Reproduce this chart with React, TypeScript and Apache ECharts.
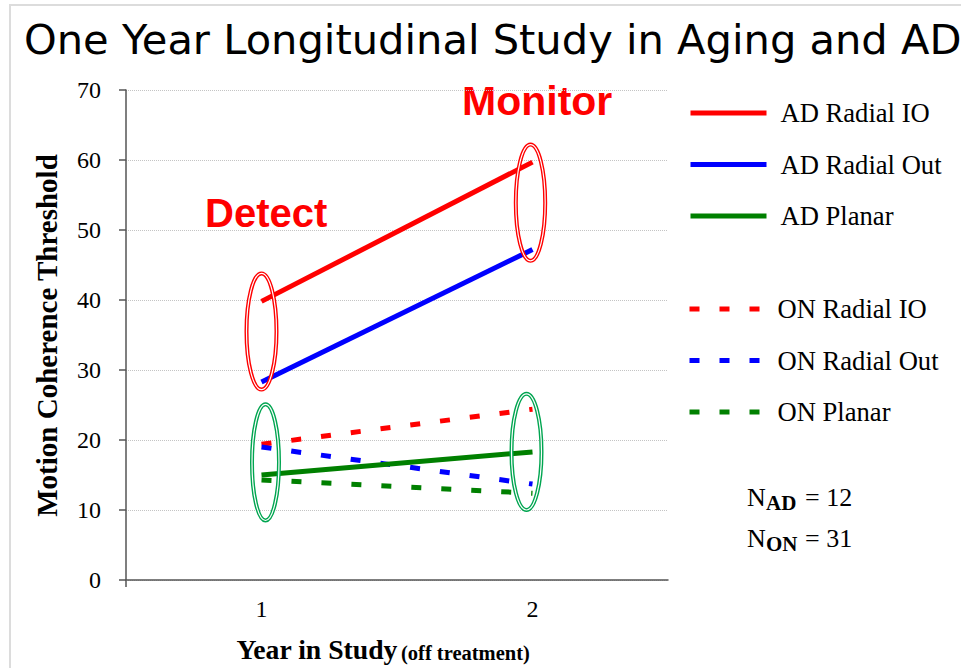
import React, { useEffect, useRef } from 'react';
import * as echarts from 'echarts';

const categories = ['1', '2'];
const adRadialIO = [39.8, 59.7];
const adRadialOut = [28.3, 47.2];
const adPlanar = [15.0, 18.3];
const onRadialIO = [19.4, 24.4];
const onRadialOut = [19.0, 13.7];
const onPlanar = [14.3, 12.4];

const yTicks = { min: 0, max: 70, interval: 10 };

// ellipse annotations: [category index, centre value, half height in value units]
const ellipseData = [
  [0, 35.5, 8.3],
  [1, 53.9, 8.3],
  [0, 16.8, 8.3],
  [1, 18.3, 8.3],
];
const ellipseColors = ['#ff0000', '#ff0000', '#00a550', '#00a550'];
const ellipseDx = [0, -2, 4, -6];
const ellipseRx = [15, 14.7, 13.5, 15];

const SERIF = "'Liberation Serif', 'Times New Roman', serif";
const SANS = "'Liberation Sans', Arial, sans-serif";
const TITLE_FONT = "'DejaVu Sans', Verdana, sans-serif";

const RED = '#ff0000';
const BLUE = '#0000ff';
const GREEN = '#008000';

export default function App() {
  const ref = useRef<HTMLDivElement>(null);

  useEffect(() => {
    if (!ref.current) return;
    const chart = echarts.init(ref.current, undefined, { renderer: 'svg' });

    const solid = (name: string, data: number[], color: string) => ({
      name,
      type: 'line',
      data,
      symbol: 'none',
      itemStyle: { color },
      lineStyle: { color, width: 5, type: 'solid', cap: 'butt' },
      z: 3,
    });
    const dashed = (name: string, data: number[], color: string) => ({
      name,
      type: 'line',
      data,
      symbol: 'none',
      itemStyle: { color },
      lineStyle: { color, width: 5, type: [10, 20], cap: 'butt' },
      z: 2,
    });

    chart.setOption({
      animation: false,
      backgroundColor: '#ffffff',
      grid: { left: 126, right: 293, top: 90, bottom: 88, containLabel: false },
      xAxis: {
        type: 'category',
        data: categories,
        boundaryGap: true,
        axisLine: { show: true, lineStyle: { color: '#555555', width: 1.5 } },
        axisTick: { show: false },
        axisLabel: { fontFamily: SERIF, fontSize: 24, color: '#000', margin: 17 },
        splitLine: { show: false },
      },
      yAxis: {
        type: 'value',
        min: yTicks.min,
        max: yTicks.max,
        interval: yTicks.interval,
        axisLine: { show: true, lineStyle: { color: '#555555', width: 1.5 } },
        axisTick: { show: true, inside: false, length: 7, lineStyle: { color: '#555555', width: 1.5 } },
        axisLabel: { fontFamily: SERIF, fontSize: 24, color: '#000', margin: 25 },
        splitLine: { show: true, lineStyle: { color: '#c4c4c4', type: 'dotted', width: 1 } },
      },
      legend: [
        {
          data: ['AD Radial IO', 'AD Radial Out', 'AD Planar'],
          orient: 'vertical',
          left: 688,
          top: 98,
          padding: 0,
          itemWidth: 76,
          itemHeight: 14,
          itemGap: 21.5,
          selectedMode: false,
          itemStyle: { opacity: 0 },
          lineStyle: { width: 5, type: 'solid' },
          textStyle: { fontFamily: SERIF, fontSize: 26.6, color: '#000', lineHeight: 30, padding: [0, 0, 0, 9] },
        },
        {
          data: ['ON Radial IO', 'ON Radial Out', 'ON Planar'],
          orient: 'vertical',
          left: 687,
          top: 294,
          padding: 0,
          itemWidth: 72,
          itemHeight: 14,
          itemGap: 21.5,
          selectedMode: false,
          itemStyle: { opacity: 0 },
          lineStyle: { width: 5, type: [10, 20] },
          textStyle: { fontFamily: SERIF, fontSize: 26.6, color: '#000', lineHeight: 30, padding: [0, 0, 0, 11] },
        },
      ],
      series: [
        solid('AD Radial IO', adRadialIO, RED),
        solid('AD Radial Out', adRadialOut, BLUE),
        solid('AD Planar', adPlanar, GREEN),
        dashed('ON Radial IO', onRadialIO, RED),
        dashed('ON Radial Out', onRadialOut, BLUE),
        dashed('ON Planar', onPlanar, GREEN),
        {
          name: 'annotations',
          type: 'custom',
          data: ellipseData,
          encode: { x: 0, y: 1 },
          z: 5,
          renderItem: (params: any, api: any) => {
            const i = params.dataIndex;
            const c = api.coord([api.value(0), api.value(1)]);
            const t = api.coord([api.value(0), api.value(1) + api.value(2)]);
            const ry = c[1] - t[1];
            const shape = { cx: c[0] + ellipseDx[i], cy: c[1], rx: ellipseRx[i], ry };
            return {
              type: 'group',
              children: [
                { type: 'ellipse', shape, style: { fill: 'none', stroke: ellipseColors[i], lineWidth: 4 } },
                { type: 'ellipse', shape, style: { fill: 'none', stroke: '#ffffff', lineWidth: 1.2 } },
              ],
            };
          },
        },
      ],
      graphic: [
        {
          type: 'rect',
          shape: { x: 10, y: 5, width: 1000, height: 700 },
          style: { fill: 'none', stroke: '#dcdcdc', lineWidth: 2 },
          silent: true,
          z: -1,
        },
        {
          type: 'text',
          x: 24,
          y: 39,
          style: {
            text: 'One Year Longitudinal Study in Aging and AD',
            fontFamily: TITLE_FONT,
            fontSize: 41.6,
            fill: '#000',
            align: 'left',
            verticalAlign: 'middle',
          },
        },
        {
          type: 'line',
          shape: { x1: 126, y1: 580, x2: 126, y2: 587 },
          style: { stroke: '#555555', lineWidth: 1.5 },
        },
        {
          type: 'text',
          x: 47,
          y: 335.5,
          rotation: Math.PI / 2,
          style: {
            text: 'Motion Coherence Threshold',
            fontFamily: SERIF,
            fontWeight: 'bold',
            fontSize: 29,
            fill: '#000',
            align: 'center',
            verticalAlign: 'middle',
          },
        },
        {
          type: 'text',
          x: 383,
          y: 663,
          style: {
            text: '{a|Year in Study} {b|(off treatment)}',
            align: 'center',
            verticalAlign: 'bottom',
            rich: {
              a: { fontFamily: SERIF, fontWeight: 'bold', fontSize: 27.7, fill: '#000', verticalAlign: 'bottom' },
              b: { fontFamily: SERIF, fontWeight: 'bold', fontSize: 20.5, fill: '#000', verticalAlign: 'bottom' },
            },
          },
        },
        {
          type: 'text',
          x: 205,
          y: 213,
          style: {
            text: 'Detect',
            fontFamily: SANS,
            fontWeight: 'bold',
            fontSize: 40,
            fill: RED,
            align: 'left',
            verticalAlign: 'middle',
          },
        },
        {
          type: 'text',
          x: 462,
          y: 101,
          style: {
            text: 'Monitor',
            fontFamily: SANS,
            fontWeight: 'bold',
            fontSize: 41,
            fill: RED,
            align: 'left',
            verticalAlign: 'middle',
          },
        },
        { type: 'text', x: 747, y: 497, style: { text: 'N', fontFamily: SERIF, fontSize: 26, fill: '#000', align: 'left', verticalAlign: 'middle' } },
        { type: 'text', x: 766, y: 503, style: { text: 'AD', fontFamily: SERIF, fontWeight: 'bold', fontSize: 21, fill: '#000', align: 'left', verticalAlign: 'middle' } },
        { type: 'text', x: 805, y: 497, style: { text: '= 12', fontFamily: SERIF, fontSize: 26, fill: '#000', align: 'left', verticalAlign: 'middle' } },
        { type: 'text', x: 747, y: 538, style: { text: 'N', fontFamily: SERIF, fontSize: 26, fill: '#000', align: 'left', verticalAlign: 'middle' } },
        { type: 'text', x: 766, y: 544, style: { text: 'ON', fontFamily: SERIF, fontWeight: 'bold', fontSize: 21, fill: '#000', align: 'left', verticalAlign: 'middle' } },
        { type: 'text', x: 805, y: 538, style: { text: '= 31', fontFamily: SERIF, fontSize: 26, fill: '#000', align: 'left', verticalAlign: 'middle' } },
      ],
    });

    return () => {
      chart.dispose();
    };
  }, []);

  return (
    <div
      ref={ref}
      style={{ position: 'fixed', left: 0, top: 0, width: 961, height: 668, background: '#fff' }}
    />
  );
}
